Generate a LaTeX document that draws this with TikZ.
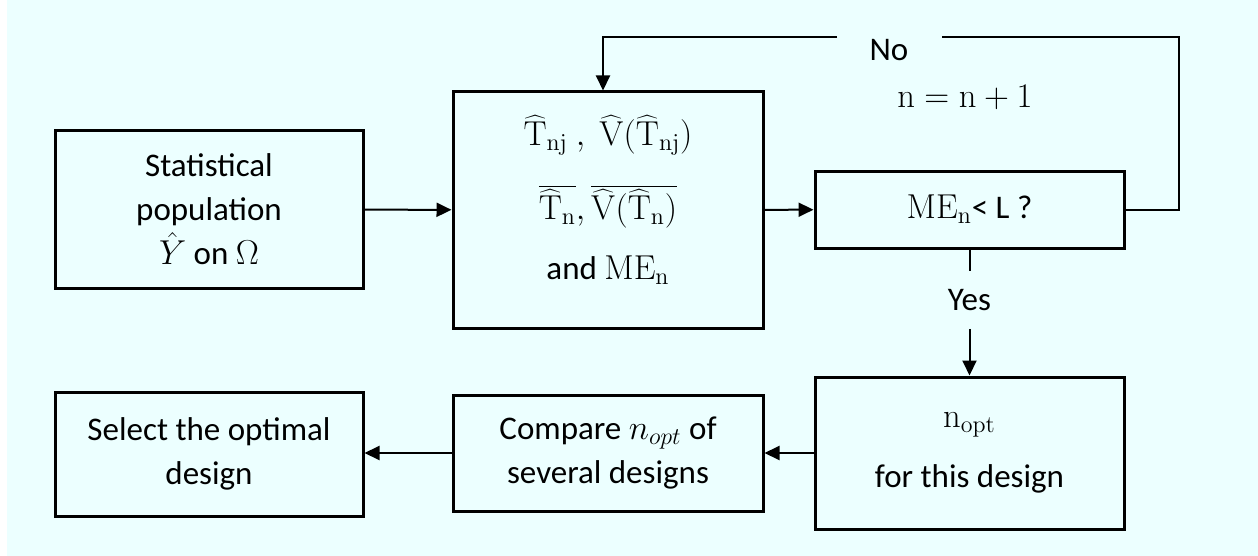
\documentclass[tikz,border=0pt]{standalone}
\usepackage[no-math]{fontspec}
\setmainfont{Carlito}
\usetikzlibrary{arrows.meta}
\definecolor{bgcyan}{RGB}{236,255,255}
\newcommand{\mth}[1]{{\fontsize{18}{22}\selectfont$#1$}}
\begin{document}
\begin{tikzpicture}[x=0.5pt, y=-0.5pt, >={Triangle[width=7pt,length=7.5pt]},
  box/.style={draw, line width=1.5pt, align=center, inner sep=2pt,
    font=\fontsize{16.5}{22}\selectfont},
  conn/.style={line width=1pt},
  lbl/.style={inner sep=0pt, font=\fontsize{16.5}{22}\selectfont}]
  \useasboundingbox (0,0) rectangle (1258,556);
  \fill[bgcyan] (7,0) rectangle (1258,556);
  % boxes
  \node[box, minimum width=154pt, minimum height=78.5pt] (pop) at (209,209.5)
    {Statistical\\population\\$\hat{Y}$ on $\Omega$};
  \node[box, minimum width=155pt, minimum height=118pt,
    font=\fontsize{16.5}{30}\selectfont] (calc) at (608,210)
    {\mth{\widehat{\mathrm{T}}_{\mathrm{nj}}\ ,\ \widehat{\mathrm{V}}\bigl(\widehat{\mathrm{T}}_{\mathrm{nj}}\bigr)}\\[7pt]
     \mth{\overline{\widehat{\mathrm{T}}_{\mathrm{n}}}, \overline{\widehat{\mathrm{V}}(\widehat{\mathrm{T}}_{\mathrm{n}})}}\\
     and \mth{\mathrm{ME}_{\mathrm{n}}}\rule[-13pt]{0pt}{0pt}};
  \node[box, minimum width=154.5pt, minimum height=38.5pt] (check) at (969.5,209.5)
    {\mth{\mathrm{ME}_{\mathrm{n}}}< L ?};
  \node[box, minimum width=154.5pt, minimum height=76pt,
    font=\fontsize{16.5}{30}\selectfont] (opt) at (969.5,453)
    {\mth{\mathrm{n}_{\mathrm{opt}}}\\for this design};
  \node[box, minimum width=155pt, minimum height=58pt] (comp) at (608,453)
    {Compare \mth{n_{opt}} of\\several designs};
  \node[box, minimum width=154pt, minimum height=62pt] (sel) at (209,454)
    {Select the optimal\\design};
  % labels
  \node[lbl] (no) at (889,50) {No};
  \node[lbl] (incr) at (965,97) {\mth{\mathrm{n}=\mathrm{n}+1}};
  \node[lbl, minimum height=28.5pt] (yes) at (969.5,300) {Yes};
  \coordinate (gapR) at (942,37);
  \coordinate (gapL) at (837,37);
  % connectors
  \draw[conn, ->] (pop) -- (calc);
  \draw[conn, ->] (calc) -- (check);
  \draw[conn] (check.east) -- ++(53,0) |- (gapR);
  \draw[conn, ->] (gapL) -| ([xshift=-2.5pt]calc.north);
  \draw[conn] (check.south) -- (yes.north);
  \draw[conn, ->] (yes.south) -- (opt.north);
  \draw[conn, ->] (opt) -- (comp);
  \draw[conn, ->] (comp.west) -- (sel.east |- comp.west);
\end{tikzpicture}
\end{document}
